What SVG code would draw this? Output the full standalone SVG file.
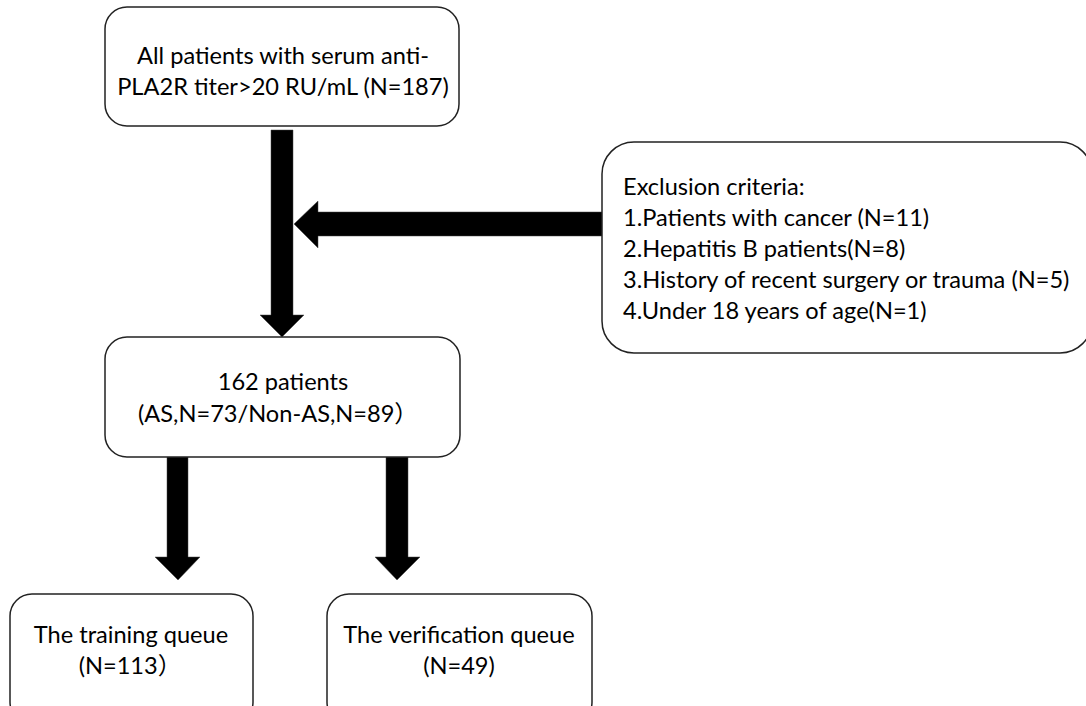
<svg xmlns="http://www.w3.org/2000/svg" width="1086" height="706" viewBox="0 0 1086 706">
<style>
.box{fill:#fff;stroke:#222;stroke-width:1.5}
.t{font-family:Lato,"Liberation Sans","Noto Sans CJK SC",sans-serif;font-size:23.6px;fill:#000}
.c{text-anchor:middle}
.arrow{fill:#000;stroke:#444;stroke-width:0.5}
</style>
<rect width="1086" height="706" fill="#fff"/>
<g id="connectors">
<polygon class="arrow" points="271,130 293,130 293,315 304,315 282,337 260,315 271,315"/>
<polygon class="arrow" points="603,212 318,212 318,201 294,224 318,248 318,236 603,236"/>
<polygon class="arrow" points="167,457 188,457 188,557 200,557 178,580 155,557 167,557"/>
<polygon class="arrow" points="386,457 408,457 408,557 420,557 397,580 375,557 386,557"/>
</g>
<g id="n1">
<rect class="box" x="105" y="7" width="354" height="119" rx="22"/>
<text class="t c" x="283" y="64">All patients with serum anti-</text>
<text class="t c" x="283" y="95">PLA2R titer&gt;20 RU/mL (N=187)</text>
</g>
<g id="n2">
<rect class="box" x="602" y="142" width="490" height="211" rx="32"/>
<text class="t" x="623" y="195">Exclusion criteria:</text>
<text class="t" x="623" y="226">1.Patients with cancer (N=11)</text>
<text class="t" x="623" y="257">2.Hepatitis B patients(N=8)</text>
<text class="t" x="623" y="288">3.History of recent surgery or trauma (N=5)</text>
<text class="t" x="623" y="319">4.Under 18 years of age(N=1)</text>
</g>
<g id="n3">
<rect class="box" x="105" y="337" width="355" height="120" rx="22"/>
<text class="t c" x="283" y="390">162 patients</text>
<text class="t c" x="278" y="422">(AS,N=73/Non-AS,N=89）</text>
</g>
<g id="n4">
<rect class="box" x="10" y="594" width="243" height="130" rx="22"/>
<text class="t c" x="131" y="643">The training queue</text>
<text class="t c" x="130" y="674">(N=113）</text>
</g>
<g id="n5">
<rect class="box" x="327" y="594" width="265" height="130" rx="22"/>
<text class="t c" x="459" y="643">The verification queue</text>
<text class="t c" x="459" y="674">(N=49)</text>
</g>
</svg>
